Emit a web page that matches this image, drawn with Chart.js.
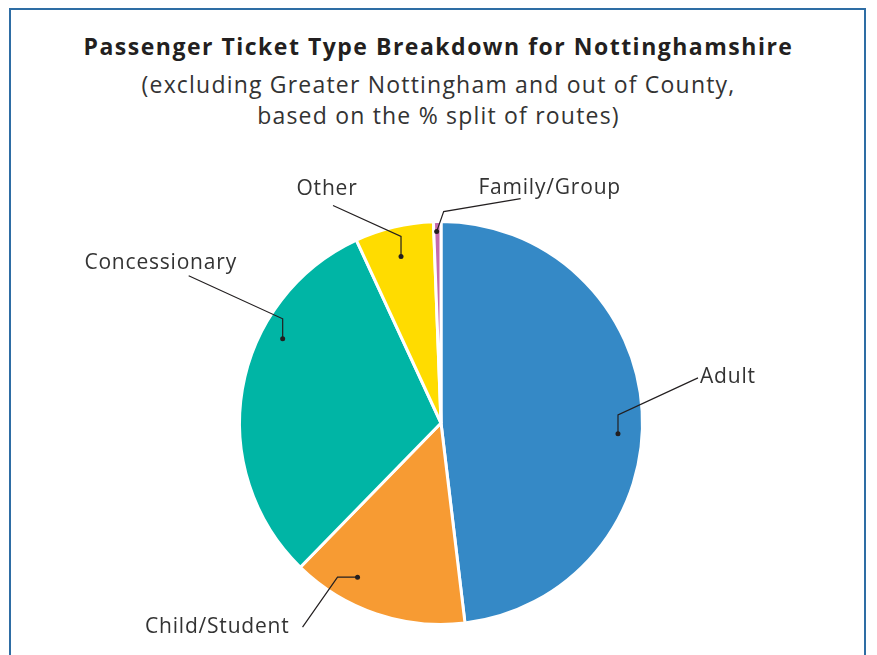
<!DOCTYPE html>
<html>
<head>
<meta charset="utf-8">
<script src="https://cdn.jsdelivr.net/npm/chart.js@4/dist/chart.umd.min.js"></script>
<style>
  body { margin: 0; background: #fff; }
  #page { position: relative; width: 877px; height: 655px; overflow: hidden; font-family: "Open Sans", sans-serif; color: #333; }
  #frame { position: absolute; left: 9px; top: 8px; width: 857px; height: 700px; border: 2px solid #2e6da4; box-sizing: border-box; }
  .title { position: absolute; left: 0; width: 877px; text-align: center; white-space: nowrap; }
  #t1 { top: 30px; font-size: 23px; font-weight: 700; color: #231f20; letter-spacing: 1.5px; }
  #t2 { top: 68px; font-size: 23px; letter-spacing: 1.2px; }
  #t3 { top: 99px; font-size: 23px; letter-spacing: 1.2px; }
  #wrap { position: absolute; left: 0; top: 0; width: 877px; height: 655px; }
</style>
</head>
<body>
<div id="page">
  <div id="frame"></div>
  <div class="title" id="t1">Passenger Ticket Type Breakdown for Nottinghamshire</div>
  <div class="title" id="t2">(excluding Greater Nottingham and out of County,</div>
  <div class="title" id="t3">based on the % split of routes)</div>
  <div id="wrap"><canvas id="chart"></canvas></div>
</div>
<script>
const categories = ['Adult', 'Child/Student', 'Concessionary', 'Other', 'Family/Group'];
const shares = [48.1, 14.2, 30.8, 6.3, 0.6];
const colours = ['#3589c6', '#f79b33', '#00b5a5', '#ffdc00', '#c46aad'];

// leader line layout per slice: where the dot sits in the slice (t = fraction of the sweep,
// rf = fraction of radius), the elbow and end of the line, and where the text goes
const callouts = [
  { t: 0.54, rf: 0.88, elbow: [0, -19], end: [80, -56], text: [2, -1], align: 'left' },
  { t: 0.69, rf: 0.87, elbow: [-20, 0], end: [-55, 50], text: [-13, 0], align: 'right' },
  { t: 0.665, rf: 0.89, elbow: [0, -20], end: [-94, -63], text: [-28, -13], align: 'center' },
  { t: 0.5, rf: 0.85, elbow: [0, -20], end: [-68, -51], text: [-6, -16], align: 'center' },
  { t: 0.4, rf: 0.95, elbow: [7, -20], end: [84, -33], text: [29, -11], align: 'center' }
];

const calloutPlugin = {
  id: 'callouts',
  afterDatasetsDraw(chart) {
    const ctx = chart.ctx;
    const arcs = chart.getDatasetMeta(0).data;
    ctx.save();
    arcs.forEach((arc, i) => {
      const c = callouts[i];
      const p = arc.getProps(['x', 'y', 'startAngle', 'endAngle', 'outerRadius'], true);
      const a = p.startAngle + c.t * (p.endAngle - p.startAngle);
      const dx = p.x + Math.cos(a) * p.outerRadius * c.rf;
      const dy = p.y + Math.sin(a) * p.outerRadius * c.rf;
      const ex = dx + c.end[0], ey = dy + c.end[1];
      ctx.strokeStyle = '#231f20';
      ctx.lineWidth = 1.2;
      ctx.beginPath();
      ctx.moveTo(dx, dy);
      ctx.lineTo(dx + c.elbow[0], dy + c.elbow[1]);
      ctx.lineTo(ex, ey);
      ctx.stroke();
      ctx.fillStyle = '#231f20';
      ctx.beginPath();
      ctx.arc(dx, dy, 2.5, 0, Math.PI * 2);
      ctx.fill();
      ctx.font = '21px "Open Sans", sans-serif';
      ctx.letterSpacing = '0.8px';
      ctx.fillStyle = '#333';
      ctx.textAlign = c.align;
      ctx.textBaseline = 'middle';
      ctx.fillText(categories[i], ex + c.text[0], ey + c.text[1]);
    });
    ctx.restore();
  }
};

new Chart(document.getElementById('chart'), {
  type: 'pie',
  data: {
    labels: categories,
    datasets: [{
      data: shares,
      backgroundColor: colours,
      borderColor: '#fff',
      borderWidth: 3
    }]
  },
  options: {
    responsive: true,
    maintainAspectRatio: false,
    animation: false,
    layout: { padding: { top: 220, bottom: 29, left: 238, right: 233 } },
    plugins: {
      legend: { display: false },
      tooltip: { enabled: false }
    }
  },
  plugins: [calloutPlugin]
});
</script>
</body>
</html>
